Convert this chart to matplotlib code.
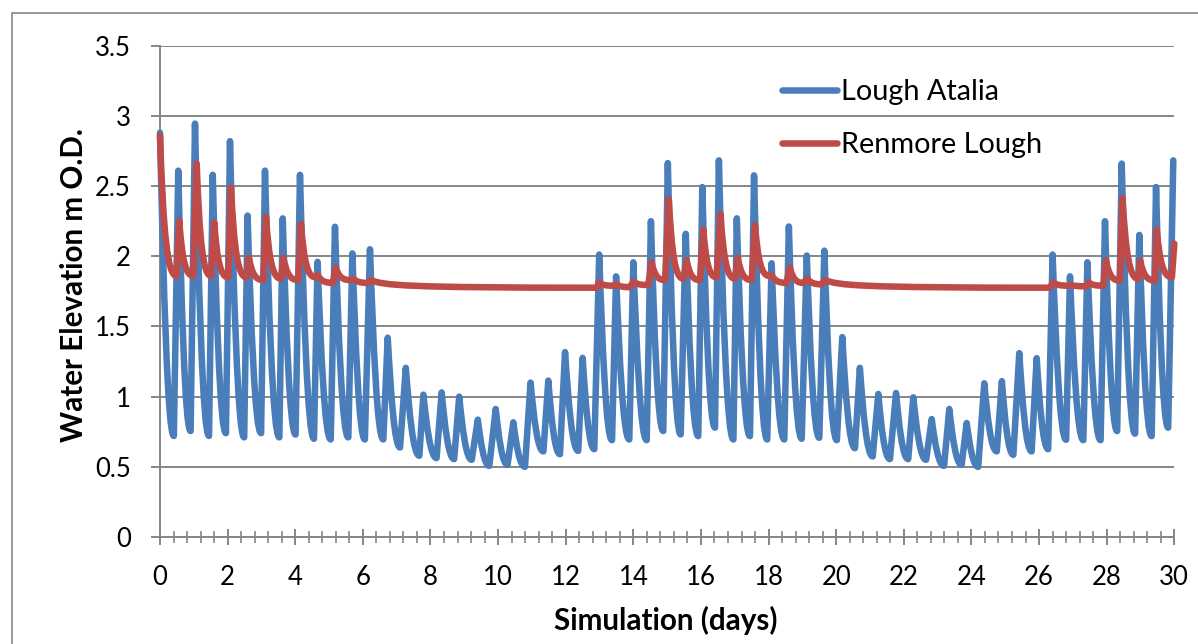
import matplotlib
matplotlib.use("Agg")
import matplotlib.pyplot as plt
from matplotlib.path import Path
from matplotlib.patches import PathPatch, Rectangle
from matplotlib.lines import Line2D
from matplotlib.ticker import MultipleLocator

plt.rcParams['font.family'] = ['Lato', 'DejaVu Sans']

# Lough Atalia: high waters and the low water after each (days, m O.D.)
atalia_high_t = [0.0, 0.54, 1.035, 1.56, 2.07, 2.59, 3.105, 3.63, 4.14, 4.66, 5.175, 5.69, 6.21,
                 6.735, 7.27, 7.79, 8.33, 8.85, 9.40, 9.93, 10.45, 10.96, 11.485, 11.98, 12.50,
                 12.99, 13.49, 14.0, 14.52, 15.02, 15.55, 16.04, 16.53, 17.06, 17.57, 18.09, 18.60,
                 19.13, 19.65, 20.18, 20.70, 21.245, 21.77, 22.28, 22.825, 23.345, 23.86, 24.38,
                 24.90, 25.415, 25.93, 26.40, 26.915, 27.43, 27.95, 28.445, 28.965, 29.46, 29.97]
atalia_high_h = [2.88, 2.61, 2.945, 2.58, 2.82, 2.29, 2.61, 2.27, 2.58, 1.96, 2.21, 2.02, 2.05,
                 1.42, 1.205, 1.014, 1.03, 1.0, 0.836, 0.912, 0.817, 1.10, 1.114, 1.317, 1.276,
                 2.012, 1.857, 1.957, 2.25, 2.664, 2.16, 2.493, 2.683, 2.27, 2.576, 1.95, 2.212,
                 2.005, 2.04, 1.424, 1.205, 1.019, 1.026, 0.995, 0.84, 0.912, 0.812, 1.095,
                 1.11, 1.31, 1.274, 2.012, 1.857, 1.957, 2.25, 2.66, 2.152, 2.493, 2.683]
atalia_low_t = [0.41, 0.905, 1.45, 1.95, 2.49, 2.99, 3.53, 4.01, 4.555, 5.05, 5.57, 6.06, 6.605,
                7.10, 7.67, 8.18, 8.70, 9.22, 9.74, 10.28, 10.795, 11.34, 11.83, 12.37, 12.845,
                13.37, 13.88, 14.395, 14.885, 15.40, 15.92, 16.415, 16.96, 17.45, 17.96, 18.465,
                18.98, 19.50, 20.02, 20.555, 21.08, 21.59, 22.13, 22.66, 23.19, 23.71, 24.20,
                24.75, 25.24, 25.78, 26.27, 26.80, 27.31, 27.82, 28.31, 28.84, 29.33, 29.82]
atalia_low_h = [0.72, 0.755, 0.72, 0.74, 0.71, 0.74, 0.71, 0.73, 0.70, 0.695, 0.71, 0.695, 0.695,
                0.638, 0.579, 0.562, 0.555, 0.55, 0.507, 0.514, 0.50, 0.61, 0.59, 0.614, 0.626,
                0.69, 0.695, 0.69, 0.755, 0.731, 0.719, 0.779, 0.695, 0.719, 0.695, 0.695,
                0.70, 0.707, 0.69, 0.633, 0.574, 0.555, 0.555, 0.55, 0.507, 0.514, 0.50,
                0.61, 0.586, 0.61, 0.626, 0.693, 0.69, 0.69, 0.755, 0.736, 0.719, 0.779]

# Renmore Lough: peaks and the minimum before the next rise
renmore_high_t = [0.0, 0.57, 1.085, 1.605, 2.10, 2.63, 3.135, 3.65, 4.17, 4.66, 5.195, 5.72, 6.23,
                  12.97, 13.5, 14.0, 14.54, 15.05, 15.58, 16.07, 16.58, 17.09, 17.6, 18.09, 18.63,
                  19.15, 19.67, 26.41, 26.94, 27.46, 27.98, 28.47, 28.99, 29.48, 30.0]
renmore_high_h = [2.86, 2.25, 2.66, 2.24, 2.49, 1.99, 2.28, 1.99, 2.23, 1.865, 1.92, 1.84, 1.83,
                  1.814, 1.80, 1.82, 1.957, 2.405, 1.97, 2.19, 2.30, 1.99, 2.22, 1.865, 1.92,
                  1.84, 1.83, 1.814, 1.795, 1.814, 1.97, 2.414, 1.97, 2.19, 2.09]
renmore_low_t = [0.49, 0.985, 1.51, 2.02, 2.56, 3.055, 3.58, 4.09, 4.6, 5.12, 5.63, 6.16, 12.93,
                 13.41, 13.9, 14.44, 14.94, 15.48, 15.97, 16.46, 17.01, 17.5, 18.02, 18.53, 19.03,
                 19.57, 26.32, 26.87, 27.41, 27.9, 28.39, 28.94, 29.43, 29.93]
renmore_low_h = [1.86, 1.86, 1.86, 1.85, 1.85, 1.83, 1.84, 1.83, 1.85, 1.81, 1.83, 1.81, 1.776,
                 1.79, 1.78, 1.795, 1.83, 1.84, 1.83, 1.85, 1.84, 1.83, 1.86, 1.81, 1.81,
                 1.80, 1.776, 1.79, 1.786, 1.79, 1.826, 1.838, 1.826, 1.85]

y_ticks = [0, 0.5, 1, 1.5, 2, 2.5, 3, 3.5]
y_labels = ['0', '0.5', '1', '1.5', '2', '2.5', '3', '3.5']
x_ticks = list(range(0, 31, 2))

BLUE = '#4A7EBB'
RED = '#BE4B48'
GREY = '#868686'


def tide_path(high_t, high_h, low_t, low_h, k_lead, k_drop, k_lag, cap_lead, cap_lag):
    # straight rise to each high water, smooth bezier fall to the following low
    verts = [(high_t[0], high_h[0])]
    codes = [Path.MOVETO]
    for i in range(len(low_t)):
        tp, hp = high_t[i], high_h[i]
        tl, hl = low_t[i], low_h[i]
        dt = tl - tp
        dh = hp - hl
        verts += [(tp + min(k_lead * dt, cap_lead), hl + k_drop * dh),
                  (tp + min(k_lag * dt, cap_lag), hl),
                  (tl, hl),
                  (high_t[i + 1], high_h[i + 1])]
        codes += [Path.CURVE4, Path.CURVE4, Path.CURVE4, Path.LINETO]
    return Path(verts, codes)


fig = plt.figure(figsize=(11.98, 6.44), dpi=100)
ax = fig.add_axes([160 / 1198, 107 / 644, 1014.3 / 1198, 491.3 / 644])

atalia = tide_path(atalia_high_t, atalia_high_h, atalia_low_t, atalia_low_h,
                   0.25, 0.5, 0.55, 10.0, 10.0)
renmore = tide_path(renmore_high_t, renmore_high_h, renmore_low_t, renmore_low_h,
                    0.2, 0.3, 0.45, 0.4, 1.0)
ax.add_patch(PathPatch(atalia, fill=False, edgecolor=BLUE, lw=4.7,
                       capstyle='round', joinstyle='round', zorder=3, clip_on=False))
ax.add_patch(PathPatch(renmore, fill=False, edgecolor=RED, lw=4.7,
                       capstyle='round', joinstyle='round', zorder=4, clip_on=False))

ax.set_xlim(0, 30)
ax.set_ylim(0, 3.5)
ax.set_xticks(x_ticks)
ax.xaxis.set_minor_locator(MultipleLocator(0.4))
ax.set_yticks(y_ticks, y_labels)

ax.grid(axis='y', color=GREY, lw=1.4)
ax.set_axisbelow(True)
for side in ['top', 'right']:
    ax.spines[side].set_visible(False)
for side in ['left', 'bottom']:
    ax.spines[side].set_color(GREY)
    ax.spines[side].set_linewidth(1.4)

ax.tick_params(axis='x', which='major', direction='inout', length=11, width=1.4,
               color=GREY, pad=14.5, labelsize=18.5)
ax.tick_params(axis='x', which='minor', direction='inout', length=9, width=1.2, color=GREY)
ax.tick_params(axis='y', direction='out', length=6.5, width=1.4, color=GREY,
               pad=14.5, labelsize=18.5)

ax.set_xlabel('Simulation (days)', fontsize=21.3, fontweight='bold')
ax.set_ylabel('Water Elevation m O.D.', fontsize=21.3, fontweight='bold')
ax.xaxis.label.set_va('center')
ax.yaxis.label.set_va('center')
ax.xaxis.set_label_coords(0.499, -0.169)
ax.yaxis.set_label_coords(-0.085, 0.513)

handles = [Line2D([], [], color=BLUE, lw=4.7, solid_capstyle='round'),
           Line2D([], [], color=RED, lw=4.7, solid_capstyle='round')]
fig.legend(handles, ['Lough Atalia', 'Renmore Lough'], loc='upper left',
           bbox_to_anchor=(782 / 1198, 1 - 79 / 644), frameon=False, fontsize=20.8,
           handlelength=1.9, handletextpad=0.15, labelspacing=0.95,
           borderpad=0, borderaxespad=0)

# chart area outline
fig.patches.append(Rectangle((12 / 1198, -1), 3, 1 + (644 - 13) / 644,
                             transform=fig.transFigure, fill=False,
                             edgecolor=GREY, lw=1.2))

fig.savefig('out.png', dpi=100)
